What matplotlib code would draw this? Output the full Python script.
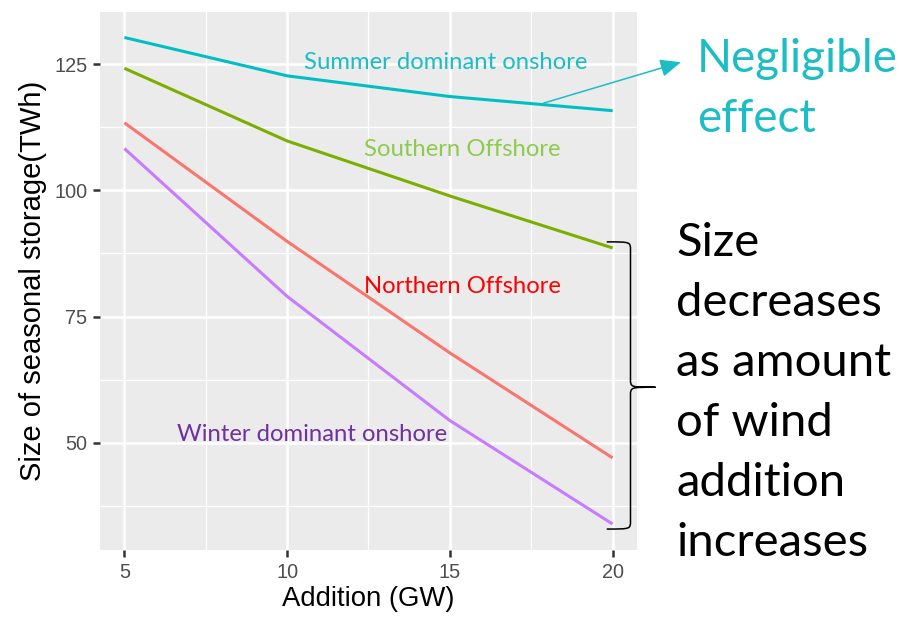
import matplotlib.pyplot as plt
from matplotlib.path import Path
from matplotlib.patches import PathPatch

# wind addition scenarios (GW) and seasonal storage size (TWh)
addition = [5, 10, 15, 20]
summer_onshore = [130.3, 122.7, 118.6, 115.8]
southern_offshore = [124.2, 109.8, 98.9, 88.6]
northern_offshore = [113.4, 89.9, 67.8, 47.0]
winter_onshore = [108.3, 79.0, 54.4, 33.9]

series = [
    (summer_onshore, '#00BFC4', 'Summer dominant onshore', '#1CBDC4', (14.88, 125.4)),
    (southern_offshore, '#7CAE00', 'Southern Offshore', '#8DCB4C', (15.37, 108.1)),
    (northern_offshore, '#F8766D', 'Northern Offshore', '#FF0000', (15.4, 80.9)),
    (winter_onshore, '#C77CFF', 'Winter dominant onshore', '#7030A0', (10.77, 51.6)),
]

W, H = 904, 618
fig = plt.figure(figsize=(W / 100, H / 100), dpi=100)
ax = fig.add_axes([100 / W, 68 / H, 537 / W, 538 / H])
ax.set_facecolor('#EBEBEB')

for vals, col, name, tcol, pos in series:
    ax.plot(addition, vals, color=col, lw=2.2, solid_capstyle='butt', zorder=3)
    ax.text(pos[0], pos[1], name, color=tcol, fontsize=17.2, family='Lato',
            ha='center', va='center', zorder=4)

ax.set_xlim(4.25, 20.75)
ax.set_ylim(28.75, 135.35)
ax.set_xticks(addition)
ax.set_yticks([50, 75, 100, 125])
ax.set_xticks([7.5, 12.5, 17.5], minor=True)
ax.set_yticks([37.5, 62.5, 87.5, 112.5], minor=True)
ax.grid(True, which='major', color='white', lw=1.8, zorder=1)
ax.grid(True, which='minor', color='white', lw=0.9, zorder=1)
ax.set_axisbelow(True)
for s in ax.spines.values():
    s.set_visible(False)
ax.tick_params(which='major', length=5, width=1.8, color='#333333',
               labelcolor='#4D4D4D', labelsize=14.3, pad=4)
ax.tick_params(which='minor', length=0)
for lab in ax.get_xticklabels() + ax.get_yticklabels():
    lab.set_family('Liberation Sans')

ax.set_xlabel('Addition (GW)', fontsize=19.8, family='Liberation Sans', labelpad=3)
ax.set_ylabel('Size of seasonal storage(TWh)', fontsize=21,
              family='Liberation Sans', labelpad=5)

# arrow from the summer line to the note on the right
ax.annotate('', xy=(22.1, 125.4), xytext=(17.88, 117.3),
            arrowprops=dict(arrowstyle='-|>,head_length=0.7,head_width=0.3',
                            color='#1CBDC4', lw=1.1,
                            mutation_scale=18, shrinkA=0, shrinkB=0),
            annotation_clip=False)

# curly brace over the lower three line ends
x0, x1, x2 = 19.82, 20.55, 21.32
yt, yb, ym = 89.8, 32.9, 61.0
d = 1.6
verts = [
    (x0, yt), (x1, yt), (x1, yt), (x1, yt - d),
    (x1, ym + d), (x1, ym), (x1, ym), (x2, ym),
    (x1, ym), (x1, ym), (x1, ym - d),
    (x1, yb + d), (x1, yb), (x1, yb), (x0, yb),
]
codes = [Path.MOVETO, Path.CURVE4, Path.CURVE4, Path.CURVE4,
         Path.LINETO, Path.CURVE4, Path.CURVE4, Path.CURVE4,
         Path.CURVE4, Path.CURVE4, Path.CURVE4,
         Path.LINETO, Path.CURVE4, Path.CURVE4, Path.CURVE4]
ax.add_patch(PathPatch(Path(verts, codes), fill=False, ec='black', lw=1.1,
                       clip_on=False, zorder=5))

fig.text(697 / W, 1 - 89 / H, 'Negligible\neffect', color='#1CBDC4', fontsize=33,
         family='Lato', ha='left', va='center', linespacing=1.55)
fig.text(676 / W, 1 - 393 / H,
         'Size\ndecreases\nas amount\nof wind\naddition\nincreases',
         color='black', fontsize=34, family='Lato', ha='left', va='center',
         linespacing=1.53)

fig.savefig('out.png', dpi=100)
